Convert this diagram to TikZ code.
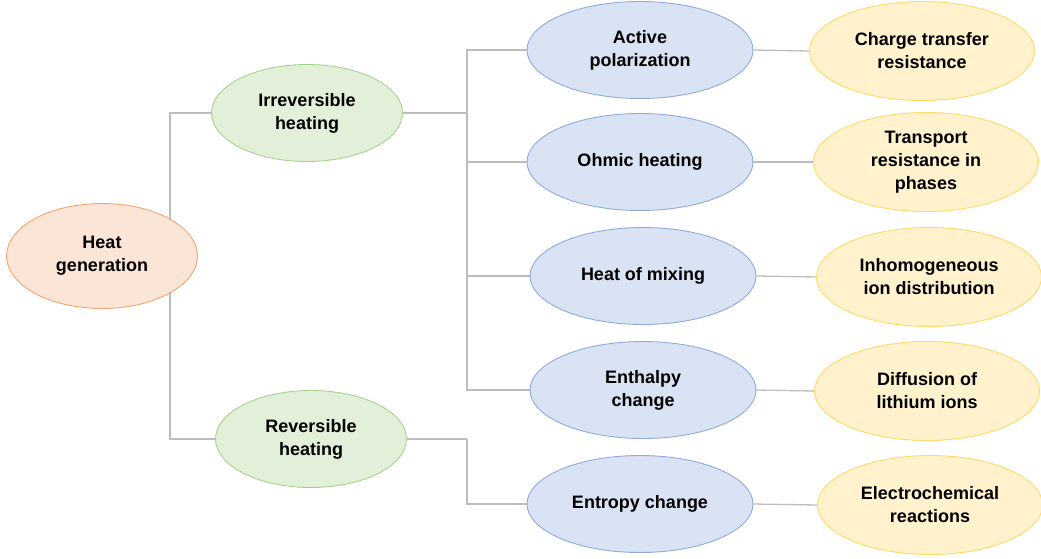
\documentclass[tikz,border=0pt]{standalone}
\usepackage{fontspec}
\setmainfont{Liberation Sans}
\usetikzlibrary{shapes.geometric,backgrounds}

\definecolor{heatfill}{HTML}{FBE5D6}
\definecolor{heatline}{HTML}{F4A46E}
\definecolor{kindfill}{HTML}{E2F0D9}
\definecolor{kindline}{HTML}{A9D18E}
\definecolor{causefill}{HTML}{DAE3F3}
\definecolor{causeline}{HTML}{8FAADC}
\definecolor{sourcefill}{HTML}{FFF2CC}
\definecolor{sourceline}{HTML}{FFD966}
\definecolor{linkgrey}{HTML}{BDBDBD}

\tikzset{
  bubble/.style={ellipse, inner sep=0pt, align=center, line width=0.9pt,
    font=\bfseries\fontsize{18}{23}\selectfont},
  heatbubble/.style={bubble, draw=heatline, fill=heatfill, minimum width=191pt, minimum height=105pt},
  kindbubble/.style={bubble, draw=kindline, fill=kindfill, minimum width=191pt, minimum height=97pt},
  causebubble/.style={bubble, draw=causeline, fill=causefill, minimum width=226pt, minimum height=97pt},
  sourcebubble/.style={bubble, draw=sourceline, fill=sourcefill, minimum width=225pt, minimum height=99pt},
  link/.style={draw=linkgrey, line width=1.3pt}
}

\begin{document}
\begin{tikzpicture}[x=1pt,y=-1pt]
  \useasboundingbox (0,0) rectangle (1041,558);

  \node[heatbubble] (heat) at (102,256) {Heat\\generation};

  \node[kindbubble] (irr) at (307,113) {Irreversible\\heating};
  \node[kindbubble] (rev) at (311,439) {Reversible\\heating};

  \node[causebubble] (act) at (640,50) {Active\\polarization};
  \node[causebubble] (ohm) at (640,162) {Ohmic heating};
  \node[causebubble] (mix) at (643,276) {Heat of mixing};
  \node[causebubble] (enth) at (643,390) {Enthalpy\\change};
  \node[causebubble] (entr) at (640,504) {Entropy change};

  \node[sourcebubble] (ctr) at (922,51) {Charge transfer\\resistance};
  \node[sourcebubble] (trp) at (926,162) {Transport\\resistance in\\phases};
  \node[sourcebubble] (ion) at (929,277) {Inhomogeneous\\ion distribution};
  \node[sourcebubble] (dif) at (927,391) {Diffusion of\\lithium ions};
  \node[sourcebubble] (ech) at (930,505) {Electrochemical\\reactions};

  \coordinate (hsplit) at (170,256);
  \coordinate (isplit) at (467,113);
  \coordinate (rsplit) at (467,439);

  \begin{scope}[on background layer]
    \draw[link] (hsplit) |- (irr.west);
    \draw[link] (hsplit) |- (rev.west);

    \draw[link] (irr.east) -- (isplit);
    \draw[link] (isplit) |- (act.west);
    \draw[link] (isplit) |- (ohm.west);
    \draw[link] (isplit) |- (mix.west);
    \draw[link] (isplit) |- (enth.west);

    \draw[link] (rev.east) -- (rsplit);
    \draw[link] (rsplit) |- (entr.west);

    \draw[link] (act.east) -- (ctr.west);
    \draw[link] (ohm.east) -- (trp.west);
    \draw[link] (mix.east) -- (ion.west);
    \draw[link] (enth.east) -- (dif.west);
    \draw[link] (entr.east) -- (ech.west);
  \end{scope}
\end{tikzpicture}
\end{document}
